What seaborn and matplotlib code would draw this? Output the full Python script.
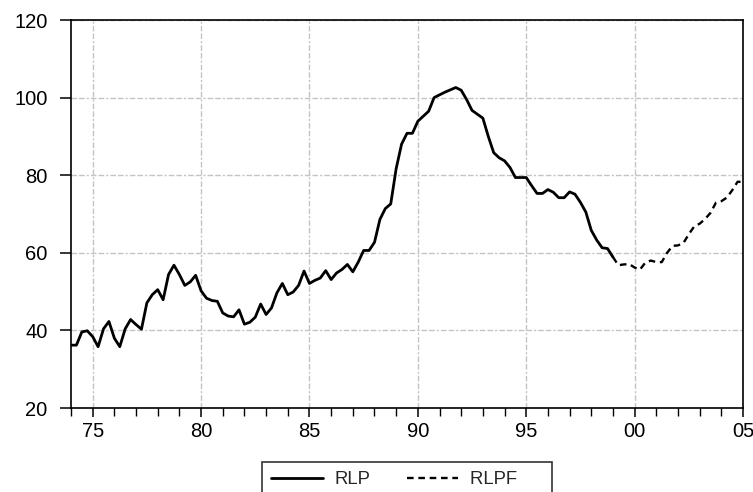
import numpy as np
import pandas as pd
import matplotlib
matplotlib.use("Agg")
import matplotlib.pyplot as plt
import seaborn as sns

# ---- data (quarterly) ----
rlp_start = "1974Q1"
rlp = [36.2, 36.2, 39.6, 39.9,
       38.4, 35.8, 40.4, 42.3,
       38.0, 35.8, 40.4, 42.8,
       41.5, 40.3, 47.1, 49.2,
       50.5, 47.9, 54.4, 56.8,
       54.4, 51.6, 52.5, 54.2,
       50.2, 48.3, 47.7, 47.5,
       44.5, 43.7, 43.5, 45.3,
       41.6, 42.1, 43.4, 46.8,
       44.1, 45.8, 49.7, 52.1,
       49.2, 49.9, 51.6, 55.3,
       52.1, 52.9, 53.5, 55.4,
       53.1, 54.8, 55.7, 57.0,
       55.1, 57.6, 60.6, 60.6,
       62.7, 68.6, 71.4, 72.6,
       81.7, 88.0, 90.8, 90.8,
       93.9, 95.2, 96.5, 100.0,
       100.7, 101.4, 102.0, 102.6,
       101.9, 99.5, 96.7, 95.7,
       94.7, 90.0, 85.8, 84.5,
       83.7, 82.0, 79.4, 79.4,
       79.4, 77.3, 75.3, 75.3,
       76.3, 75.6, 74.2, 74.2,
       75.7, 75.1, 73.0, 70.5,
       65.8, 63.3, 61.3, 61.1,
       58.9]

rlpf_start = "1999Q1"
rlpf = [58.9, 56.8, 57.0, 57.1,
        56.2, 55.7, 57.5, 58.0,
        57.6, 57.6, 60.0, 61.8,
        61.9, 62.5, 64.8, 66.8,
        67.5, 68.7, 70.3, 72.9,
        73.3, 74.2, 76.1, 78.3,
        78.3]

x_tick_years = [1975, 1980, 1985, 1990, 1995, 2000, 2005]
x_tick_labels = ["75", "80", "85", "90", "95", "00", "05"]
y_ticks = [20, 40, 60, 80, 100, 120]
series_names = ["RLP", "RLPF"]


def to_frac(start, n):
    p = pd.period_range(start, periods=n, freq="Q")
    return p.year + (p.quarter - 1) / 4.0


df_rlp = pd.DataFrame({"t": to_frac(rlp_start, len(rlp)), "v": rlp})
df_rlpf = pd.DataFrame({"t": to_frac(rlpf_start, len(rlpf)), "v": rlpf})

sns.set_theme(style="white")
plt.rcParams["font.family"] = ["Liberation Sans", "DejaVu Sans"]

fig = plt.figure(figsize=(7.53, 4.92), dpi=100)
ax = fig.add_axes([71 / 753, 1 - 408 / 492, (743 - 71) / 753, (408 - 20) / 492])

sns.lineplot(data=df_rlpf, x="t", y="v", ax=ax, color="black", lw=1.7,
             label=series_names[1] + "     ", zorder=3)
sns.lineplot(data=df_rlp, x="t", y="v", ax=ax, color="black", lw=2.0,
             label=series_names[0], zorder=4)
ax.lines[0].set_dashes([2.8, 2.0])

ax.set_xlim(1974.0, 2005.0)
ax.set_ylim(20, 120)
ax.set_xticks(x_tick_years)
ax.set_xticklabels(x_tick_labels)
ax.set_xticks(np.arange(1974, 2006), minor=True)
ax.set_yticks(y_ticks)
ax.set_xlabel("")
ax.set_ylabel("")

ax.grid(True, which="major", color="#c4c4c4",
        linestyle=(0, (4, 1.5, 4, 1.5, 1.5, 1.5)), lw=1.0)
for s in ax.spines.values():
    s.set_color("black")
    s.set_linewidth(1.2)
    s.set_visible(True)

ax.tick_params(axis="y", which="major", direction="out", length=8, width=1.1,
               color="black", labelsize=14.5, labelcolor="black", pad=9.0,
               left=True)
ax.tick_params(axis="x", which="major", direction="out", length=6.5, width=1.1,
               color="black", labelsize=14.5, labelcolor="black", pad=3.5,
               bottom=True)
ax.tick_params(axis="x", which="minor", direction="out", length=5.5, width=1.0,
               color="black", bottom=True)

handles, labels = ax.get_legend_handles_labels()
leg = ax.legend([handles[1], handles[0]], [labels[1], labels[0]],
                loc="upper center", bbox_to_anchor=(0.5, -0.139), ncol=2,
                frameon=True, fancybox=False, edgecolor="black", fontsize=13.3,
                handlelength=2.8, columnspacing=1.95, borderpad=0.5,
                handletextpad=0.65, borderaxespad=0)
leg.get_frame().set_linewidth(1.2)

fig.savefig("out.png", dpi=100)
